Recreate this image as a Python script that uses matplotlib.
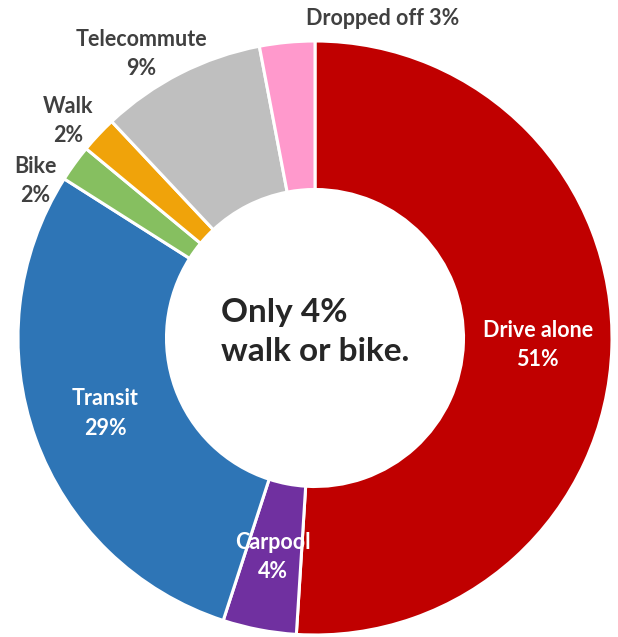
import matplotlib.pyplot as plt
import numpy as np

modes = ['Drive alone', 'Carpool', 'Transit', 'Bike', 'Walk', 'Telecommute', 'Dropped off']
shares = [51, 4, 29, 2, 2, 9, 3]
colors = ['#C00000', '#7030A0', '#2E75B6', '#86BF60', '#F0A30A', '#BFBFBF', '#FF99CC']
labels = ['Drive alone\n51%', 'Carpool\n4%', 'Transit\n29%', 'Bike\n2%', 'Walk\n2%',
          'Telecommute\n9%', 'Dropped off 3%']
inside = [True, True, True, False, False, False, False]
# outside label spots (pixel coords in the original image)
outside_px = {3: (35, 181), 4: (68, 121), 5: (141, 54), 6: (383, 19)}

W, H = 618, 637
cx, cy, R = 315, 338, 297

fig = plt.figure(figsize=(W / 100, H / 100), dpi=100)
ax = fig.add_axes([0, 0, 1, 1])
wedges, _ = ax.pie(shares, colors=colors, startangle=90, counterclock=False,
                   radius=1, wedgeprops=dict(width=0.5, edgecolor='white', linewidth=2.2))
ax.set_xlim(-cx / R, (W - cx) / R)
ax.set_ylim((cy - H) / R, cy / R)
ax.set_aspect('equal')
ax.axis('off')

for i, w in enumerate(wedges):
    if inside[i]:
        ang = np.deg2rad((w.theta1 + w.theta2) / 2)
        x, y = 0.75 * np.cos(ang), 0.75 * np.sin(ang)
        ax.text(x, y, labels[i], ha='center', va='center', color='white',
                fontsize=15.5, fontweight='bold', family='Lato', linespacing=1.5)
    else:
        px, py = outside_px[i]
        ax.text((px - cx) / R, (cy - py) / R, labels[i], ha='center', va='center',
                color='#404040', fontsize=15.5, fontweight='bold', family='Lato',
                linespacing=1.5)

ax.text(-0.315, 0.02, 'Only 4%\nwalk or bike.', ha='left', va='center', color='#262626',
        fontsize=24, fontweight='bold', family='Lato', linespacing=1.45)

fig.savefig('out.png', dpi=100)
